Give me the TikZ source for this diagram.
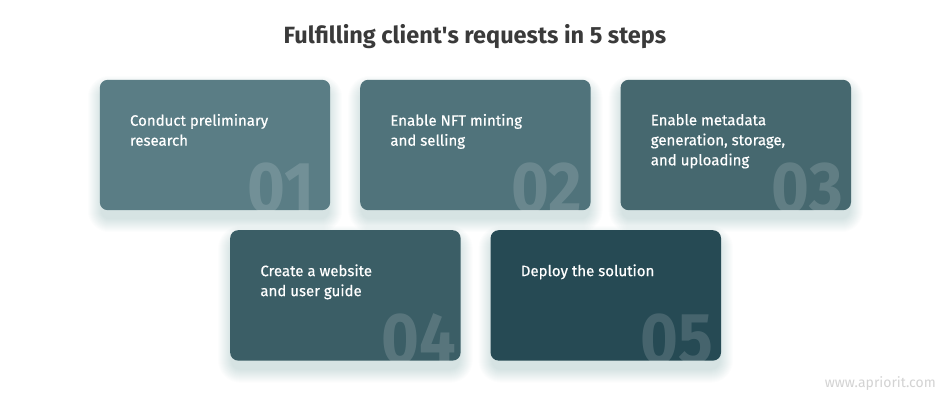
\documentclass[tikz,border=0pt]{standalone}
\usepackage{fontspec}
\setmainfont{Fira Sans}
\newfontfamily\cardfont{Fira Sans}[FakeBold=0.5]
\usetikzlibrary{positioning}

\definecolor{cardA}{HTML}{5A7D85}
\definecolor{cardB}{HTML}{50737B}
\definecolor{cardC}{HTML}{46686F}
\definecolor{cardD}{HTML}{3B5E66}
\definecolor{cardE}{HTML}{264A54}
\definecolor{shadowcol}{HTML}{2E5560}
\definecolor{titlegray}{HTML}{3A3A3A}
\definecolor{markgray}{HTML}{D3D3D3}

% soft shadow under a card
\newcommand{\cardshadow}[1]{%
  \foreach \g in {1,...,14}
    \fill[shadowcol, opacity=0.011, rounded corners=8pt+\g pt]
      ([shift={(-\g pt+2pt,-\g pt-8pt)}]#1.south west)
      rectangle ([shift={(\g pt-2pt,\g pt-10pt)}]#1.north east);
}

\begin{document}
\begin{tikzpicture}[
  x=1pt, y=1pt,
  card/.style={rectangle, rounded corners=8pt, minimum width=230pt,
    minimum height=130pt, inner sep=0pt},
  cardtxt/.style={anchor=north west, inner sep=0pt, text=white,
    align=left, font=\cardfont\fontsize{15}{20}\selectfont},
  cardnum/.style={anchor=north east, inner sep=0pt, text=white,
    text opacity=0.15, font=\fontsize{72}{72}\selectfont\bfseries},
  ttl/.style={font=\fontsize{23.5}{28}\selectfont\bfseries, text=titlegray},
]
\useasboundingbox[fill=white] (0,0) rectangle (950,400);

% Title
\node[ttl] (title) at (475,363) {Fulfilling client\textquotesingle s requests in 5 steps};

% Top row
\node[card] (c1) at (215,255) {};
\node[card, right=30pt of c1] (c2) {};
\node[card, right=30pt of c2] (c3) {};

% Bottom row
\node[card, below right=20pt and -100pt of c1] (c4) {};
\node[card, right=30pt of c4] (c5) {};

% Shadows, then card faces
\cardshadow{c1} \cardshadow{c2} \cardshadow{c3}
\fill[cardA, rounded corners=8pt] (c1.south west) rectangle (c1.north east);
\fill[cardB, rounded corners=8pt] (c2.south west) rectangle (c2.north east);
\fill[cardC, rounded corners=8pt] (c3.south west) rectangle (c3.north east);
\cardshadow{c4} \cardshadow{c5}
\fill[cardD, rounded corners=8pt] (c4.south west) rectangle (c4.north east);
\fill[cardE, rounded corners=8pt] (c5.south west) rectangle (c5.north east);

% Step texts
\node[cardtxt] (t1) at ([shift={(30pt,-34pt)}]c1.north west) {Conduct preliminary\\research};
\node[cardtxt] (t2) at ([shift={(30pt,-34pt)}]c2.north west) {Enable NFT minting\\and selling};
\node[cardtxt] (t3) at ([shift={(30pt,-34pt)}]c3.north west) {Enable metadata\\generation, storage,\\and uploading};
\node[cardtxt] (t4) at ([shift={(30pt,-34pt)}]c4.north west) {Create a website\\and user guide};
\node[cardtxt] (t5) at ([shift={(30pt,-34pt)}]c5.north west) {Deploy the solution};

% Big step numbers, cut off by the card edge
\begin{scope}
  \clip[rounded corners=8pt] (c1.south west) rectangle (c1.north east);
  \node[cardnum] (n1) at ([shift={(-16pt,-83pt)}]c1.north east) {\scalebox{0.9}[1]{01}};
\end{scope}
\begin{scope}
  \clip[rounded corners=8pt] (c2.south west) rectangle (c2.north east);
  \node[cardnum] (n2) at ([shift={(-8pt,-83pt)}]c2.north east) {\scalebox{0.9}[1]{02}};
\end{scope}
\begin{scope}
  \clip[rounded corners=8pt] (c3.south west) rectangle (c3.north east);
  \node[cardnum] (n3) at ([shift={(-8pt,-83pt)}]c3.north east) {\scalebox{0.9}[1]{03}};
\end{scope}
\begin{scope}
  \clip[rounded corners=8pt] (c4.south west) rectangle (c4.north east);
  \node[cardnum] (n4) at ([shift={(-4pt,-83pt)}]c4.north east) {\scalebox{0.9}[1]{04}};
\end{scope}
\begin{scope}
  \clip[rounded corners=8pt] (c5.south west) rectangle (c5.north east);
  \node[cardnum] (n5) at ([shift={(-8pt,-83pt)}]c5.north east) {\scalebox{0.9}[1]{05}};
\end{scope}

% Watermark
\node[anchor=base east, inner sep=0pt, text=markgray,
  font=\fontsize{14}{16}\selectfont] (mark) at (936,13) {www.apriorit.com};

\end{tikzpicture}
\end{document}
